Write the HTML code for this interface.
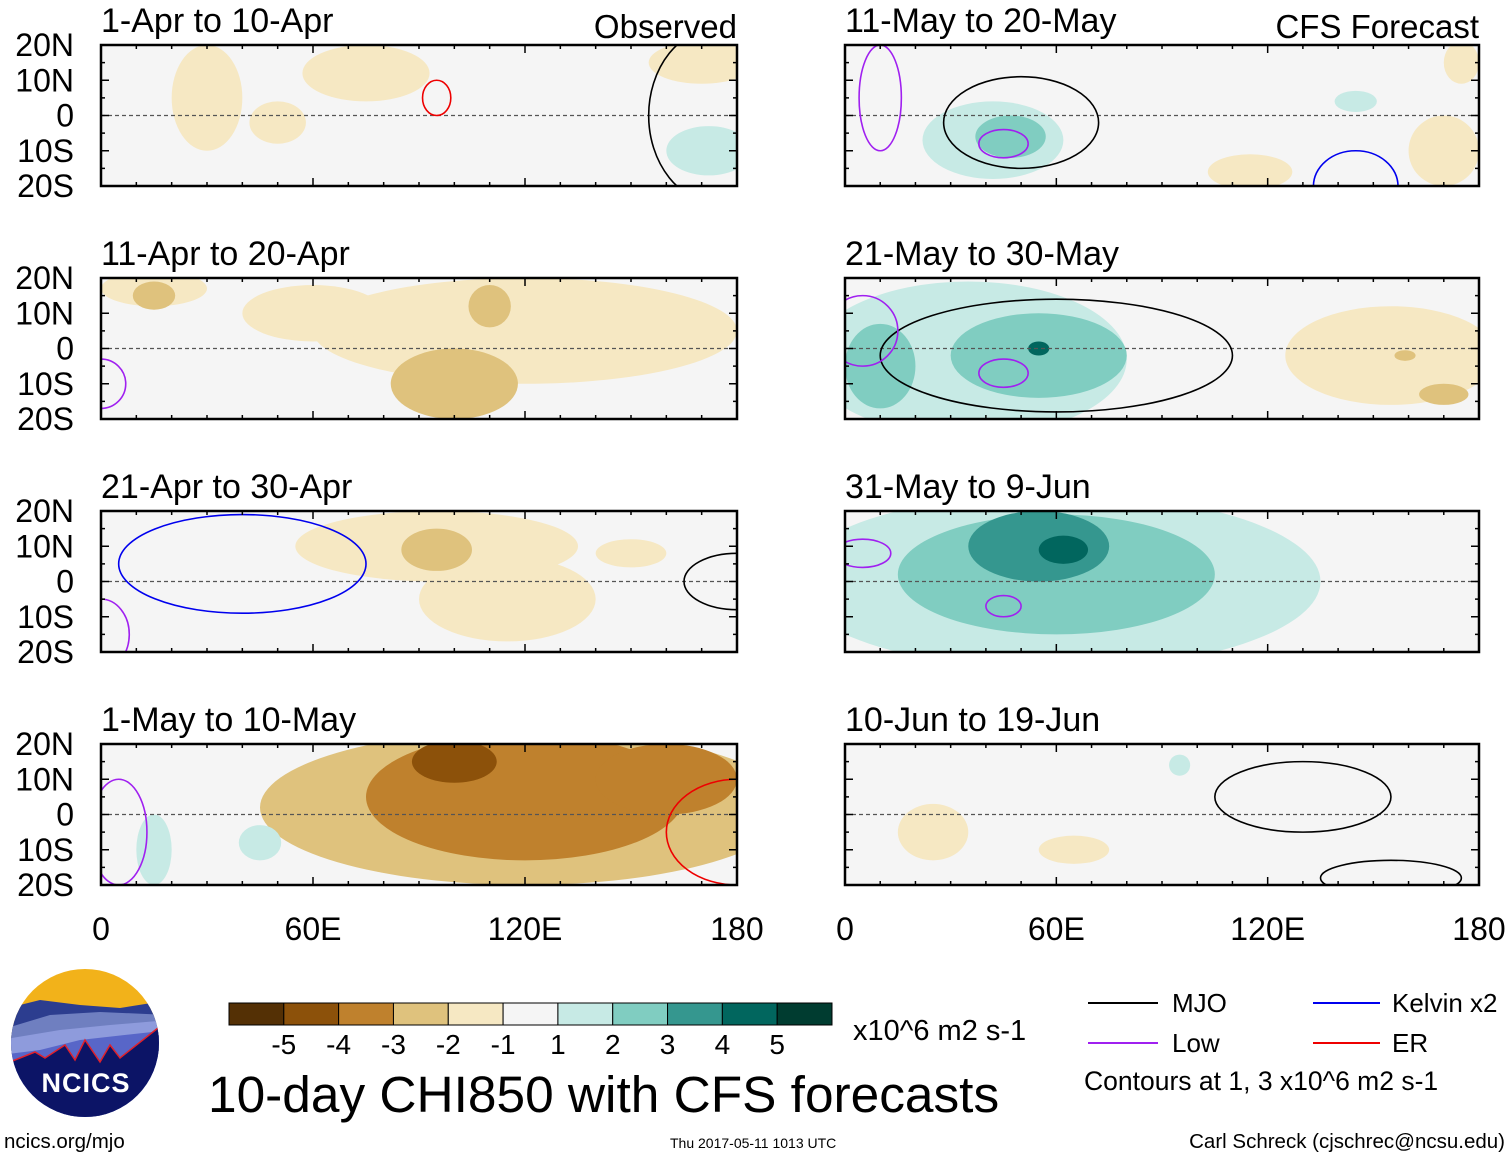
<!DOCTYPE html>
<html><head><meta charset="utf-8"><style>
body{margin:0;background:#fff;}
svg{display:block;font-family:"Liberation Sans",sans-serif;}
</style></head><body>
<svg id="fig" width="1510" height="1158" viewBox="0 0 1510 1158" xmlns="http://www.w3.org/2000/svg">
<defs>
<clipPath id="logoClip"><circle cx="85" cy="1043" r="74"/></clipPath>
</defs>
<g id="panels"></g>
<g id="logo" clip-path="url(#logoClip)">
<rect x="0" y="960" width="170" height="170" fill="#f2b21a"/>
<path d="M0 1010 L40 1000 L80 1005 L120 1008 L170 1000 L170 1130 L0 1130Z" fill="#2c3d8f"/>
<path d="M0 1030 L50 1015 L100 1012 L170 1015 L170 1130 L0 1130Z" fill="#6f7fc0"/>
<path d="M0 1040 L60 1030 L110 1025 L170 1020 L170 1130 L0 1130Z" fill="#8e9bdc"/>
<path d="M0 1055 L40 1050 L80 1040 L170 1030 L170 1130 L0 1130Z" fill="#5866c8"/>
<path d="M10 1062 L35 1052 L45 1058 L65 1045 L75 1060 L85 1040 L100 1062 L110 1045 L120 1058 L158 1028 L170 1025 L170 1130 L0 1130Z" fill="#0c1466" stroke="#e0202a" stroke-width="1.5"/>
</g>
<text x="86" y="1092" text-anchor="middle" font-size="27" font-weight="bold" fill="#fff" letter-spacing="1">NCICS</text>
<text x="4" y="1148" font-size="20.5">ncics.org/mjo</text>
<g id="cbar"></g>
<text x="853" y="1040" font-size="29">x10^6 m2 s-1</text>
<text x="208" y="1112" font-size="51.4">10-day CHI850 with CFS forecasts</text>
<g>
<line x1="1088" y1="1003" x2="1158" y2="1003" stroke="#000" stroke-width="2"/>
<text x="1172" y="1012" font-size="26">MJO</text>
<line x1="1088" y1="1043" x2="1158" y2="1043" stroke="#a020f0" stroke-width="2"/>
<text x="1172" y="1052" font-size="26">Low</text>
<line x1="1313" y1="1003" x2="1380" y2="1003" stroke="#0000ee" stroke-width="2"/>
<text x="1392" y="1012" font-size="26">Kelvin x2</text>
<line x1="1313" y1="1043" x2="1380" y2="1043" stroke="#ee0000" stroke-width="2"/>
<text x="1392" y="1052" font-size="26">ER</text>
<text x="1084" y="1090" font-size="26.5">Contours at 1, 3 x10^6 m2 s-1</text>
</g>
<text x="670" y="1148" font-size="14">Thu 2017-05-11 1013 UTC</text>
<text x="1505" y="1148" font-size="20.5" text-anchor="end">Carl Schreck (cjschrec@ncsu.edu)</text>
</svg>
<script>
const levels = [-5,-4,-3,-2,-1,1,2,3,4,5];
const levelColors = ["#543005","#8c510a","#bf812d","#dfc27d","#f6e8c3","#f5f5f5","#c7eae5","#80cdc1","#35978f","#01665e","#003c30"];
const panelTitles = ["1-Apr to 10-Apr","11-Apr to 20-Apr","21-Apr to 30-Apr","1-May to 10-May","11-May to 20-May","21-May to 30-May","31-May to 9-Jun","10-Jun to 19-Jun"];
const latTicks = ["20N","10N","0","10S","20S"];
const lonTicks = ["0","60E","120E","180"];
// blobs: [panel, lonCenter, latCenter, lonRadius, latRadius, colorIndex]
const blobs = [
[0,75,12,18,8,4],[0,30,5,10,15,4],[0,170,15,15,6,4],[0,172,-10,12,7,6],[0,50,-2,8,6,4],
[1,120,5,60,15,4],[1,100,-10,18,10,3],[1,60,10,20,8,4],[1,15,17,15,5,4],[1,110,12,6,6,3],[1,15,15,6,4,3],
[2,95,10,40,10,4],[2,115,-5,25,12,4],[2,95,9,10,6,3],[2,150,8,10,4,4],
[3,120,2,75,22,3],[3,120,5,45,18,2],[3,100,15,12,6,1],[3,160,10,20,10,2],[3,15,-10,5,10,6],[3,45,-8,6,5,6],
[4,42,-7,20,11,6],[4,47,-6,10,6,7],[4,115,-16,12,5,4],[4,170,-10,10,10,4],[4,175,15,5,6,4],[4,145,4,6,3,6],
[5,35,-3,45,22,6],[5,55,-2,25,12,7],[5,10,-5,10,12,7],[5,55,0,3,2,9],[5,155,-2,30,14,4],[5,170,-13,7,3,3],[5,159,-2,3,1.5,3],
[6,60,0,75,25,6],[6,60,2,45,17,7],[6,55,10,20,10,8],[6,62,9,7,4,9],
[7,25,-5,10,8,4],[7,65,-10,10,4,4],[7,95,14,3,3,6]
];
// contours: [panel, lonCenter, latCenter, lonRadius, latRadius, color]
const contours = [
[0,95,5,4,5,"#e00"],[0,175,0,20,25,"#000"],
[4,50,-2,22,13,"#000"],[4,45,-8,7,4,"#a020f0"],[4,145,-20,12,10,"#0000ee"],[4,10,5,6,15,"#a020f0"],
[5,60,-2,50,16,"#000"],[5,45,-7,7,4,"#a020f0"],[5,5,5,10,10,"#a020f0"],
[6,45,-7,5,3,"#a020f0"],[6,5,8,8,4,"#a020f0"],
[7,130,5,25,10,"#000"],[7,155,-18,20,5,"#000"],
[1,0,-10,7,7,"#a020f0"],[2,40,5,35,14,"#0000ee"],[2,0,-15,8,10,"#a020f0"],[2,180,0,15,8,"#000"],[3,180,-5,20,15,"#e00"],[3,5,-5,8,15,"#a020f0"]
];
const NS="http://www.w3.org/2000/svg";
const P=document.getElementById('panels');
function el(t,a,parent){const e=document.createElementNS(NS,t);for(const k in a)e.setAttribute(k,a[k]);(parent||P).appendChild(e);return e;}
function geom(i){const col=i<4?0:1,row=i%4;return{x0:col?845:101,w:col?634:636,y0:[45,278,511,744][row],h:141};}
function xS(g,lon){return g.x0+lon/180*g.w;}
function yS(g,lat){return g.y0+(20-lat)/40*g.h;}
for(let i=0;i<8;i++){
  const g=geom(i);
  const grp=el('g',{'clip-path':'url(#c'+i+')'});
  
  
  const cp=el('clipPath',{id:'c'+i});el('rect',{x:g.x0,y:g.y0,width:g.w,height:g.h},cp);
  el('rect',{x:g.x0,y:g.y0,width:g.w,height:g.h,fill:levelColors[5]},grp);
  blobs.filter(b=>b[0]===i).forEach(b=>{
    const e=el('ellipse',{cx:xS(g,b[1]),cy:yS(g,b[2]),rx:b[3]/180*g.w,ry:b[4]/40*g.h,fill:levelColors[b[5]]},grp);
    
    
  });
  el('line',{x1:g.x0,x2:g.x0+g.w,y1:yS(g,0),y2:yS(g,0),stroke:'#555','stroke-dasharray':'4 3','stroke-width':1.2},grp);
  contours.filter(c=>c[0]===i).forEach(c=>{
    const e=el('ellipse',{cx:xS(g,c[1]),cy:yS(g,c[2]),rx:c[3]/180*g.w,ry:c[4]/40*g.h,fill:'none',stroke:c[5],'stroke-width':1.6},grp);
    
    
  });
  el('rect',{x:g.x0,y:g.y0,width:g.w,height:g.h,fill:'none',stroke:'#000','stroke-width':2.5});
  for(let lon=0;lon<=180;lon+=10){const x=xS(g,lon),L=lon%60===0?8:4;
    el('line',{x1:x,x2:x,y1:g.y0,y2:g.y0+L,stroke:'#000','stroke-width':1.5});
    el('line',{x1:x,x2:x,y1:g.y0+g.h,y2:g.y0+g.h-L,stroke:'#000','stroke-width':1.5});}
  for(let lat=-20;lat<=20;lat+=5){const y=yS(g,lat),L=lat%10===0?8:4;
    el('line',{x1:g.x0,x2:g.x0+L,y1:y,y2:y,stroke:'#000','stroke-width':1.5});
    el('line',{x1:g.x0+g.w,x2:g.x0+g.w-L,y1:y,y2:y,stroke:'#000','stroke-width':1.5});}
  const t=el('text',{x:g.x0,y:g.y0-13,'font-size':34});t.textContent=panelTitles[i];
  
  
  if(i<4){latTicks.forEach((s,k)=>{const tt=el('text',{x:74,y:g.y0+k*g.h/4+11,'font-size':32,'text-anchor':'end'});tt.textContent=s;
    
    });}
  if(i===3||i===7){lonTicks.forEach((s,k)=>{const tt=el('text',{x:g.x0+k*g.w/3,y:940,'font-size':32,'text-anchor':'middle'});tt.textContent=s;
    
    });}
}
let t1=el('text',{x:737,y:38,'font-size':33,'text-anchor':'end'});t1.textContent='Observed';


let t2=el('text',{x:1479,y:38,'font-size':33,'text-anchor':'end'});t2.textContent='CFS Forecast';


const C=document.getElementById('cbar');
const bw=(832-229)/11;
levelColors.forEach((c,k)=>{const r=el('rect',{x:229+k*bw,y:1003,width:bw,height:22,fill:c,stroke:'#000','stroke-width':1},C);
  
  });
levels.forEach((v,k)=>{const tt=el('text',{x:229+(k+1)*bw,y:1054,'font-size':28,'text-anchor':'middle'},C);tt.textContent=v;
  
  });
</script>
</body></html>
